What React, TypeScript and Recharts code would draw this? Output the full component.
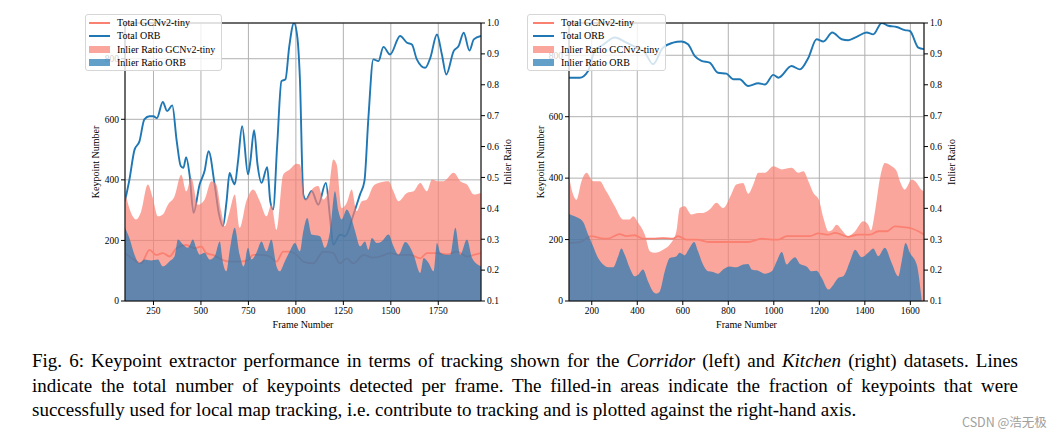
import React from 'react';
import { ComposedChart, Area, XAxis, YAxis, CartesianGrid, ReferenceLine } from 'recharts';

type Pair = [number, number];

// frame number -> value
const corridorFrameTicks = [250, 500, 750, 1000, 1250, 1500, 1750];
const kitchenFrameTicks = [200, 400, 600, 800, 1000, 1200, 1400, 1600];
const keypointTicks = [0, 200, 400, 600, 800];
const ratioTicks = [0.1, 0.2, 0.3, 0.4, 0.5, 0.6, 0.7, 0.8, 0.9, 1.0];

const corridorGcnTotal: Pair[] = [
  [100, 158], [150, 135], [185, 124], [229, 169], [264, 152], [299, 158], [335, 147], [370, 174],
  [423, 185], [467, 174], [502, 180], [528, 158], [563, 152], [616, 135], [651, 130], [704, 130],
  [748, 135], [775, 152], [819, 152], [863, 147], [898, 130], [933, 163], [968, 163], [1004, 152],
  [1039, 130], [1092, 124], [1144, 163], [1197, 158], [1232, 124], [1268, 141], [1303, 124],
  [1356, 152], [1408, 143], [1444, 147], [1496, 158], [1549, 152], [1602, 152], [1655, 141],
  [1690, 158], [1743, 158], [1796, 154], [1849, 163], [1901, 147], [1937, 152], [1975, 158],
];

const corridorOrbTotal: Pair[] = [
  [100, 330], [123, 400], [150, 499], [176, 527], [202, 600], [229, 610], [250, 610], [268, 604],
  [299, 657], [322, 627], [349, 646], [372, 530], [394, 445], [408, 440], [422, 475], [440, 417],
  [461, 291], [493, 385], [519, 429], [540, 495], [572, 385], [594, 290], [616, 247], [635, 330],
  [651, 423], [665, 400], [678, 385], [695, 460], [717, 577], [748, 418], [760, 460], [780, 564],
  [798, 450], [819, 390], [849, 442], [865, 330], [880, 302], [902, 520], [924, 726], [945, 732],
  [965, 840], [990, 918], [1008, 870], [1021, 737], [1039, 352], [1053, 335], [1083, 363],
  [1118, 318], [1158, 390], [1180, 274], [1197, 186], [1232, 219], [1259, 214], [1303, 285],
  [1338, 352], [1361, 396], [1382, 605], [1408, 798], [1435, 792], [1461, 839], [1496, 814],
  [1549, 875], [1585, 853], [1611, 847], [1637, 798], [1681, 770], [1708, 803], [1743, 880],
  [1769, 814], [1792, 748], [1831, 825], [1857, 842], [1884, 886], [1914, 827], [1937, 864],
  [1975, 875],
];

const corridorGcnRatio: Pair[] = [
  [100, 0.455], [123, 0.4], [158, 0.364], [185, 0.39], [220, 0.477], [246, 0.434], [273, 0.374],
  [299, 0.38], [326, 0.412], [361, 0.439], [396, 0.509], [423, 0.455], [449, 0.499], [484, 0.412],
  [519, 0.428], [555, 0.488], [581, 0.477], [607, 0.39], [625, 0.342], [651, 0.39], [678, 0.445],
  [704, 0.337], [739, 0.423], [775, 0.461], [810, 0.423], [845, 0.374], [871, 0.412], [898, 0.331],
  [933, 0.509], [968, 0.526], [1004, 0.544], [1021, 0.542], [1048, 0.428], [1092, 0.466],
  [1118, 0.472], [1144, 0.428], [1171, 0.455], [1197, 0.558], [1215, 0.542], [1241, 0.401],
  [1268, 0.418], [1294, 0.461], [1320, 0.391], [1347, 0.423], [1373, 0.428], [1408, 0.472],
  [1435, 0.482], [1488, 0.488], [1514, 0.455], [1540, 0.423], [1585, 0.45], [1620, 0.455],
  [1655, 0.482], [1690, 0.455], [1717, 0.493], [1743, 0.488], [1778, 0.488], [1831, 0.515],
  [1866, 0.488], [1901, 0.477], [1937, 0.445], [1975, 0.45],
];

const corridorOrbRatio: Pair[] = [
  [100, 0.337], [123, 0.304], [150, 0.25], [176, 0.223], [202, 0.234], [238, 0.231], [273, 0.234],
  [299, 0.212], [335, 0.229], [361, 0.245], [379, 0.299], [405, 0.283], [431, 0.272], [458, 0.299],
  [475, 0.272], [493, 0.25], [519, 0.256], [546, 0.234], [572, 0.245], [599, 0.293], [616, 0.223],
  [634, 0.196], [651, 0.261], [678, 0.337], [704, 0.25], [725, 0.212], [748, 0.272], [766, 0.234],
  [792, 0.256], [819, 0.293], [845, 0.261], [871, 0.299], [898, 0.212], [915, 0.196], [942, 0.229],
  [968, 0.261], [995, 0.288], [1021, 0.261], [1039, 0.326], [1060, 0.369], [1083, 0.315],
  [1127, 0.31], [1153, 0.272], [1180, 0.326], [1206, 0.455], [1224, 0.391], [1241, 0.364],
  [1268, 0.396], [1285, 0.38], [1312, 0.326], [1338, 0.277], [1364, 0.293], [1382, 0.266],
  [1400, 0.304], [1426, 0.288], [1452, 0.293], [1488, 0.315], [1514, 0.277], [1540, 0.25],
  [1576, 0.291], [1620, 0.25], [1655, 0.191], [1673, 0.239], [1699, 0.223], [1725, 0.196],
  [1743, 0.288], [1761, 0.256], [1787, 0.25], [1813, 0.25], [1840, 0.337], [1866, 0.25],
  [1901, 0.299], [1928, 0.239], [1975, 0.212],
];

const kitchenGcnTotal: Pair[] = [
  [100, 189], [147, 192], [199, 211], [235, 205], [272, 203], [323, 218], [352, 211], [389, 214],
  [425, 203], [469, 203], [513, 205], [557, 203], [579, 211], [616, 200], [660, 200], [718, 192],
  [777, 192], [835, 192], [887, 192], [947, 203], [991, 200], [1020, 200], [1057, 211], [1108, 211],
  [1159, 211], [1196, 220], [1240, 216], [1269, 222], [1327, 209], [1371, 216], [1423, 216],
  [1459, 227], [1496, 227], [1532, 243], [1576, 240], [1606, 236], [1635, 227], [1660, 216],
];

const kitchenOrbTotal: Pair[] = [
  [100, 727], [147, 727], [184, 749], [213, 814], [251, 835], [301, 858], [352, 841], [398, 824],
  [434, 808], [469, 771], [513, 825], [557, 841], [594, 845], [623, 836], [652, 798], [682, 782],
  [718, 776], [755, 743], [792, 740], [821, 722], [850, 722], [887, 700], [932, 709], [961, 705],
  [998, 736], [1020, 727], [1078, 765], [1115, 754], [1152, 792], [1188, 852], [1218, 845],
  [1257, 874], [1298, 852], [1327, 849], [1364, 860], [1408, 874], [1437, 868], [1474, 905],
  [1503, 896], [1540, 892], [1576, 882], [1598, 879], [1635, 825], [1660, 820],
];

const kitchenGcnRatio: Pair[] = [
  [100, 0.503], [118, 0.445], [133, 0.428], [155, 0.488], [177, 0.515], [206, 0.488], [235, 0.488],
  [264, 0.455], [301, 0.407], [338, 0.364], [367, 0.364], [382, 0.374], [404, 0.353], [433, 0.315],
  [455, 0.261], [477, 0.256], [513, 0.266], [543, 0.283], [572, 0.326], [587, 0.401], [608, 0.407],
  [638, 0.38], [667, 0.385], [689, 0.385], [718, 0.396], [748, 0.418], [777, 0.401], [813, 0.445],
  [835, 0.477], [865, 0.482], [888, 0.447], [910, 0.477], [932, 0.515], [961, 0.515], [998, 0.536],
  [1035, 0.526], [1078, 0.531], [1108, 0.515], [1130, 0.52], [1152, 0.488], [1174, 0.45],
  [1198, 0.428], [1218, 0.369], [1240, 0.326], [1257, 0.331], [1276, 0.347], [1298, 0.331],
  [1327, 0.31], [1357, 0.326], [1393, 0.358], [1415, 0.347], [1427, 0.329], [1445, 0.391],
  [1467, 0.499], [1488, 0.547], [1518, 0.536], [1540, 0.52], [1554, 0.488], [1576, 0.461],
  [1606, 0.493], [1628, 0.482], [1647, 0.461], [1660, 0.455],
];

const kitchenOrbRatio: Pair[] = [
  [100, 0.382], [125, 0.374], [162, 0.356], [184, 0.315], [206, 0.277], [228, 0.239], [250, 0.218],
  [272, 0.209], [294, 0.209], [316, 0.245], [330, 0.27], [345, 0.25], [367, 0.207], [389, 0.18],
  [404, 0.185], [425, 0.202], [447, 0.164], [469, 0.131], [484, 0.124], [499, 0.131], [521, 0.196],
  [543, 0.239], [572, 0.245], [587, 0.256], [608, 0.248], [630, 0.272], [650, 0.291], [667, 0.261],
  [689, 0.218], [711, 0.196], [733, 0.194], [755, 0.188], [777, 0.202], [806, 0.212], [835, 0.209],
  [865, 0.218], [887, 0.22], [903, 0.202], [932, 0.198], [961, 0.188], [991, 0.196], [1013, 0.229],
  [1035, 0.259], [1057, 0.218], [1071, 0.229], [1093, 0.242], [1115, 0.22], [1144, 0.212],
  [1166, 0.196], [1188, 0.198], [1210, 0.175], [1240, 0.137], [1262, 0.153], [1284, 0.175],
  [1305, 0.18], [1335, 0.229], [1357, 0.266], [1386, 0.242], [1415, 0.256], [1437, 0.27],
  [1459, 0.245], [1488, 0.272], [1518, 0.223], [1547, 0.18], [1562, 0.229], [1579, 0.288],
  [1598, 0.256], [1628, 0.218], [1650, 0.101],
];

const legendItems = [
  { label: 'Total GCNv2-tiny', kind: 'line', color: '#fa8072' },
  { label: 'Total ORB', kind: 'line', color: '#1f77b4' },
  { label: 'Inlier Ratio GCNv2-tiny', kind: 'patch', color: '#fa8072' },
  { label: 'Inlier Ratio ORB', kind: 'patch', color: '#1f77b4' },
];

const SALMON = '#fa8072';
const BLUE = '#1f77b4';
const serif = '"Liberation Serif", "Times New Roman", serif';
const tickStyle = { fill: '#000', fontSize: 9.5, fontFamily: serif };
const labelStyle = { fill: '#000', fontSize: 10, fontFamily: serif, textAnchor: 'middle' as const };

const pts = (arr: Pair[]) => arr.map(([f, v]) => ({ f, v }));

interface PanelProps {
  x: number;
  margin: { top: number; left: number; right: number; bottom: number };
  frameDomain: [number, number];
  frameTicks: number[];
  keypointMax: number;
  leftLabelOffset: number;
  rightLabelOffset: number;
  gcnTotal: Pair[];
  orbTotal: Pair[];
  gcnRatio: Pair[];
  orbRatio: Pair[];
}

// totals are drawn as stroke-only Areas so they sit beneath the fills, like the original
const Panel: React.FC<PanelProps> = (p) => (
  <div style={{ position: 'absolute', left: p.x, top: 0 }}>
    <ComposedChart width={530} height={340} margin={p.margin}>
      <CartesianGrid yAxisId="left" stroke="#b0b0b0" strokeWidth={1} />
      <XAxis
        dataKey="f"
        type="number"
        domain={p.frameDomain}
        ticks={p.frameTicks}
        allowDataOverflow
        height={30}
        stroke="#000"
        tickSize={4}
        tick={tickStyle}
        label={{ value: 'Frame Number', position: 'insideBottom', offset: 3, style: labelStyle }}
      />
      <YAxis
        yAxisId="left"
        type="number"
        domain={[0, p.keypointMax]}
        ticks={keypointTicks}
        allowDataOverflow
        width={40}
        stroke="#000"
        tickSize={4}
        tick={tickStyle}
        label={{ value: 'Keypoint Number', angle: -90, position: 'insideLeft', offset: p.leftLabelOffset, style: labelStyle }}
      />
      <YAxis
        yAxisId="right"
        orientation="right"
        type="number"
        domain={[0.1, 1]}
        ticks={ratioTicks}
        allowDataOverflow
        width={40}
        stroke="#000"
        tickSize={4}
        tick={tickStyle}
        tickFormatter={(v: number) => v.toFixed(1)}
        label={{ value: 'Inlier Ratio', angle: -90, position: 'insideRight', offset: p.rightLabelOffset, style: labelStyle }}
      />
      <ReferenceLine yAxisId="left" y={p.keypointMax} stroke="#000" ifOverflow="visible" />
      <Area yAxisId="left" data={pts(p.gcnTotal)} dataKey="v" type="monotone" stroke={SALMON} strokeWidth={1.8} fill="none" dot={false} activeDot={false} isAnimationActive={false} />
      <Area yAxisId="left" data={pts(p.orbTotal)} dataKey="v" type="monotone" stroke={BLUE} strokeWidth={1.9} fill="none" dot={false} activeDot={false} isAnimationActive={false} />
      <Area yAxisId="right" data={pts(p.gcnRatio)} dataKey="v" type="monotone" baseValue={0.1} stroke="none" fill={SALMON} fillOpacity={0.7} isAnimationActive={false} />
      <Area yAxisId="right" data={pts(p.orbRatio)} dataKey="v" type="monotone" baseValue={0.1} stroke="none" fill={BLUE} fillOpacity={0.7} isAnimationActive={false} />
    </ComposedChart>
  </div>
);

const LegendBox: React.FC<{ left: number; handleLeft: number }> = ({ left, handleLeft }) => (
  <div
    style={{
      position: 'absolute',
      left,
      top: 14,
      height: 57,
      padding: '0 6px 0 0',
      background: 'rgba(255,255,255,0.8)',
      border: '1px solid #d6d6d6',
      borderRadius: 3,
      fontFamily: serif,
      fontSize: 10,
      color: '#000',
      boxSizing: 'border-box',
    }}
  >
    {legendItems.map((it) => (
      <div key={it.label} style={{ position: 'relative', height: 13.3, top: 1, whiteSpace: 'nowrap', paddingLeft: handleLeft + 28, lineHeight: '13.3px' }}>
        <span
          style={{
            position: 'absolute',
            left: handleLeft,
            top: it.kind === 'line' ? 6 : 3,
            width: 21,
            height: it.kind === 'line' ? 2 : 7,
            background: it.color,
            opacity: it.kind === 'line' ? 1 : 0.7,
          }}
        />
        {it.label}
      </div>
    ))}
  </div>
);

const captionLine: React.CSSProperties = {
  position: 'absolute',
  left: 32,
  width: 986,
  fontFamily: serif,
  fontSize: 19,
  lineHeight: '22px',
  color: '#000',
  whiteSpace: 'nowrap',
};

export default function App() {
  return (
    <div style={{ position: 'absolute', left: 0, top: 0, width: 1059, height: 439, background: '#fff', overflow: 'hidden' }}>
      <Panel
        x={0}
        margin={{ top: 23, left: 85, right: 9, bottom: 9 }}
        frameDomain={[100, 1975]}
        frameTicks={corridorFrameTicks}
        keypointMax={918}
        leftLabelOffset={10}
        rightLabelOffset={14}
        gcnTotal={corridorGcnTotal}
        orbTotal={corridorOrbTotal}
        gcnRatio={corridorGcnRatio}
        orbRatio={corridorOrbRatio}
      />
      <Panel
        x={500}
        margin={{ top: 23, left: 29, right: 66, bottom: 9 }}
        frameDomain={[100, 1660]}
        frameTicks={kitchenFrameTicks}
        keypointMax={905}
        leftLabelOffset={11}
        rightLabelOffset={13}
        gcnTotal={kitchenGcnTotal}
        orbTotal={kitchenOrbTotal}
        gcnRatio={kitchenGcnRatio}
        orbRatio={kitchenOrbRatio}
      />
      <LegendBox left={85} handleLeft={3} />
      <LegendBox left={527} handleLeft={5} />

      <div style={{ ...captionLine, top: 350, whiteSpace: 'normal', textAlign: 'justify', textAlignLast: 'justify' }}>
        Fig. 6: Keypoint extractor performance in terms of tracking shown for the <i>Corridor</i> (left) and <i>Kitchen</i> (right) datasets. Lines
      </div>
      <div style={{ ...captionLine, top: 375, whiteSpace: 'normal', textAlign: 'justify', textAlignLast: 'justify' }}>
        indicate the total number of keypoints detected per frame. The filled-in areas indicate the fraction of keypoints that were
      </div>
      <div style={{ ...captionLine, top: 399 }}>
        successfully used for local map tracking, i.e. contribute to tracking and is plotted against the right-hand axis.
      </div>
      <div
        style={{
          position: 'absolute',
          left: 962,
          top: 412,
          fontFamily: '"Noto Sans CJK SC", "Noto Sans", sans-serif',
          fontSize: 12.5,
          color: '#a0a0a0',
          whiteSpace: 'nowrap',
        }}
      >
        CSDN @浩无极
      </div>
    </div>
  );
}
